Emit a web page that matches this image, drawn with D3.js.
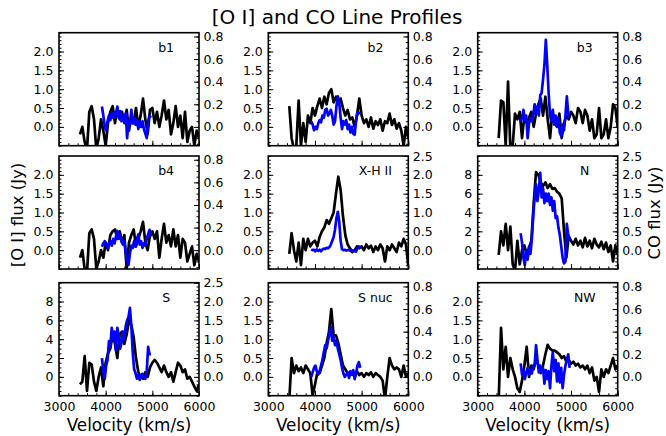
<!DOCTYPE html>
<html><head><meta charset="utf-8">
<script src="https://cdn.jsdelivr.net/npm/d3@7"></script>
<style>
html,body{margin:0;padding:0;background:#fff;}
text{font-family:"DejaVu Sans",sans-serif;fill:#000;}
</style></head>
<body>
<svg id="chart" width="666" height="436"></svg>
<script>
// ---------- data ----------
const velOI = [3450,3500,3550,3600,3650,3700,3750,3800,3850,3900,3950,4000,4050,4100,4150,4200,4250,4300,4350,4400,4450,4500,4550,4600,4650,4700,4750,4800,4850,4900,4950,5000,5050,5100,5150,5200,5250,5300,5350,5400,5450,5500,5550,5600,5650,5700,5750,5800,5850,5900,5950,6000];
const velCO = [3920,3950,3980,4010,4040,4070,4100,4130,4160,4190,4220,4250,4280,4310,4340,4370,4400,4430,4460,4490,4520,4550,4580,4610,4640,4670,4700,4730,4760,4790,4820,4850,4880,4910,4940,4970];

const panelNames = ["b1","b2","b3","b4","X-H II","N","S","S nuc","NW"];

// [O I] flux (Jy)
const oiB1 = [-0.2,0.0,-0.4,-0.6,0.4,0.55,0.2,-0.6,-0.3,0.2,-0.1,-0.5,0.1,0.4,0.55,0.1,0.5,0.2,0.4,0.1,0.45,-0.1,0.3,0.1,0.5,0.0,0.3,0.75,0.2,-0.2,0.45,0.5,0.1,0.4,0.0,0.3,0.7,0.2,0.45,-0.2,0.1,0.55,0.0,0.3,-0.3,0.4,-0.4,-0.1,0.0,-0.5,-0.1,-0.3];
const oiB2 = [0.55,-0.3,-0.6,-0.5,0.7,-0.5,0.1,-0.4,0.3,0.1,0.5,0.3,0.55,0.75,0.5,0.8,0.6,0.9,1.0,0.65,0.8,0.6,0.75,0.5,0.3,0.45,0.2,0.25,0.0,0.3,0.75,0.3,0.1,0.2,0.0,0.25,-0.05,0.15,0.05,0.2,-0.1,0.15,0.1,0.35,0.05,0.2,-0.05,0.1,-0.1,-0.5,0.0,-0.3];
const oiB3 = [-0.3,0.7,0.65,-0.5,1.2,-0.6,-0.5,0.35,0.2,0.4,-0.3,0.3,0.1,0.25,0.4,0.0,0.35,0.6,0.75,0.3,0.8,0.2,-0.3,0.4,0.1,0.0,0.35,-0.3,0.1,0.3,0.2,0.4,0.3,0.1,0.5,0.4,0.1,0.45,0.3,-0.1,0.2,-0.3,-0.2,0.5,-0.3,-0.2,0.2,-0.3,0.0,0.6,0.5,0.0];
const oiB4 = [-0.2,0.0,-0.5,-0.6,0.45,0.55,0.3,-0.5,-0.3,0.0,-0.2,0.2,0.0,0.4,0.5,0.55,0.3,0.5,0.2,0.4,-0.5,0.2,0.4,0.55,0.1,0.3,0.5,0.75,0.2,0.0,0.4,0.5,0.3,0.5,-0.2,0.3,0.7,0.2,0.4,0.1,0.55,0.1,0.4,-0.2,0.3,0.2,-0.3,-0.1,0.1,-0.4,-0.1,-0.3];
const oiXH = [-0.1,0.45,0.0,-0.3,0.2,-0.4,0.3,0.0,0.3,0.1,0.2,0.25,0.1,0.35,0.5,0.6,0.8,0.7,0.85,1.0,1.5,1.95,1.6,0.9,0.4,0.15,0.05,-0.05,0.0,0.1,0.05,0.1,0.0,0.15,0.05,0.12,-0.05,0.1,0.0,0.15,0.05,-0.3,0.1,0.0,0.15,0.05,-0.05,0.2,0.1,0.3,0.15,-0.4];
const oiN  = [-0.5,2.0,0.5,2.8,0.0,2.5,-1.5,-2.2,1.0,-1.5,0.0,0.5,-0.5,0.2,1.0,5.0,8.3,8.0,7.2,6.8,7.2,6.6,7.0,6.5,6.6,6.2,6.0,5.5,2.0,-0.8,1.5,1.0,0.6,1.2,0.5,1.0,0.3,1.3,0.4,1.0,0.2,1.2,0.6,0.3,0.9,0.1,0.8,-0.2,0.5,-1.2,0.5,-0.5];
const oiS  = [-0.8,-0.5,2.2,-1.5,1.5,1.3,-0.5,-1.5,0.0,1.0,-1.0,1.5,2.5,3.0,4.5,3.5,2.0,4.5,4.8,3.5,4.5,6.0,5.5,4.2,2.0,0.5,0.0,-0.2,0.5,0.0,1.0,1.5,1.8,1.5,1.0,0.5,1.2,0.5,0.0,0.5,-0.5,0.5,1.5,1.2,0.5,0.8,-0.2,0.0,-0.5,-1.0,-1.5,-0.8];
const oiSnuc = [-0.6,0.5,0.1,0.3,0.15,0.25,0.1,0.3,0.2,0.1,-0.5,-0.2,0.1,0.1,0.3,0.5,0.9,1.2,1.8,1.1,1.1,0.9,0.6,0.3,0.2,0.1,0.05,0.1,0.0,0.15,0.05,0.1,0.0,0.1,0.05,0.12,0.0,0.1,0.05,0.0,-0.1,-0.6,0.0,0.5,0.3,0.2,0.25,0.2,0.0,0.3,0.0,0.1];
const oiNW = [-0.6,1.3,0.2,0.8,0.0,0.5,0.2,0.0,-0.3,-0.4,-0.1,0.3,0.8,0.0,0.3,0.2,0.5,0.3,0.1,0.3,0.6,0.85,0.75,0.7,0.7,0.65,0.6,0.5,0.55,0.4,0.45,0.35,0.4,0.3,0.35,0.25,0.3,0.2,0.3,0.1,0.25,-0.1,0.0,-0.4,0.2,0.0,0.2,0.1,0.3,0.5,0.2,0.3];

// CO flux (Jy)
const coB1 = [0.18,0.10,0.00,-0.03,0.05,0.10,0.06,0.12,0.08,0.13,0.10,0.18,0.08,0.14,0.05,0.10,0.04,0.12,-0.10,0.06,0.02,0.15,0.03,0.08,0.02,0.06,-0.02,0.05,0.00,0.05,-0.02,-0.06,-0.10,0.05,0.10,0.08];
const coB2 = [0.05,0.02,-0.03,0.00,-0.02,0.03,0.06,0.04,0.10,0.08,0.15,0.16,0.10,0.12,0.15,0.10,0.02,0.05,0.18,0.27,0.22,0.08,-0.02,0.05,0.02,0.06,-0.02,0.02,-0.05,0.00,-0.06,-0.07,0.05,0.13,0.12,0.13];
const coB3 = [0.05,0.08,0.15,0.05,0.10,-0.10,0.03,0.08,0.05,0.10,0.20,0.12,0.18,0.10,0.28,0.30,0.42,0.55,0.77,0.55,0.30,0.10,0.05,0.15,0.02,0.10,0.00,0.08,-0.05,-0.08,0.02,-0.03,0.10,0.27,0.12,0.08];
const coB4 = [0.03,0.06,0.08,0.05,0.02,0.06,0.08,0.04,0.10,0.06,0.12,0.17,0.10,0.14,0.08,0.05,0.08,-0.02,-0.10,-0.13,-0.03,0.04,0.02,0.08,0.03,0.10,0.14,0.05,0.08,0.02,0.06,0.04,0.10,0.14,0.18,0.12];
const coXH = [0.02,0.00,0.01,-0.03,0.02,-0.02,0.01,-0.03,0.02,0.04,0.03,0.06,0.05,0.08,0.15,0.25,0.35,0.55,0.85,1.02,0.75,0.25,0.02,0.00,0.01,-0.01,0.00,0.01,-0.02,0.00,-0.03,-0.02,-0.04,0.05,0.10,0.07];
const coN  = [0.45,0.2,-0.2,-0.4,0.0,-0.25,0.1,-0.1,0.3,0.9,1.4,1.75,1.3,1.6,2.05,1.4,1.65,1.25,1.5,1.3,1.5,1.2,1.4,1.05,1.3,0.85,0.9,0.6,0.4,0.1,-0.2,-0.35,-0.3,0.7,0.4,0.25];
const coS  = [0.5,0.15,-0.05,0.3,0.45,0.95,0.8,1.3,1.0,1.2,0.7,1.3,1.1,0.75,0.9,1.2,1.0,1.35,1.5,1.6,1.83,1.35,0.65,0.2,0.1,-0.05,0.05,-0.08,0.05,0.08,-0.03,-0.05,0.15,0.8,0.6,0.6];
const coSnuc = [0.00,0.04,0.08,0.10,0.05,0.02,0.05,0.10,0.15,0.22,0.28,0.25,0.32,0.38,0.44,0.32,0.35,0.28,0.32,0.25,0.20,0.15,0.08,0.03,0.00,0.02,0.04,-0.01,0.05,0.02,0.06,-0.02,0.03,0.10,0.13,0.08];
const coNW = [0.12,0.02,0.06,-0.02,0.04,0.08,0.02,0.06,0.03,0.10,0.10,0.28,0.15,0.04,0.10,0.05,0.08,-0.06,0.06,-0.02,0.05,-0.10,0.10,0.22,0.05,0.15,-0.04,0.12,-0.05,0.08,-0.10,0.02,0.10,0.15,0.20,0.08];

const oiSeries = [oiB1, oiB2, oiB3, oiB4, oiXH, oiN, oiS, oiSnuc, oiNW];
const coSeries = [coB1, coB2, coB3, coB4, coXH, coN, coS, coSnuc, coNW];

// axis ranges and tick labels
const oiRangeFaint = [-0.5, 2.5], oiRangeBright = [-2, 10];
const coRangeFaint = [-0.5/3, 2.5/3], coRangeBright = [-0.5, 2.5];
const oiTicksFaint = [0, 0.5, 1.0, 1.5, 2.0];
const oiTicksBright = [0, 2, 4, 6, 8];
const coTicksFaint = [0, 0.2, 0.4, 0.6, 0.8];
const coTicksBright = [0, 0.5, 1.0, 1.5, 2.0, 2.5];
const velTicks = [3000, 4000, 5000, 6000];
const velDomain = [3000, 6000];
// which panels use the wide [O I] scale / wide CO scale
const oiBright = [false,false,false,false,false,true,true,false,false];
const coBright = [false,false,false,false,true,true,true,false,false];

// ---------- layout ----------
const svg = d3.select("#chart");
const colX = [59, 268.3, 477.7];
const rowY = [32.7, 156, 282.7];
const pw = 140, ph = 113;

svg.append("text").attr("x", 337).attr("y", 24).attr("text-anchor","middle")
  .style("font-size","20px").text("[O I] and CO Line Profiles");

svg.append("text").attr("transform","translate(23,215) rotate(-90)")
  .attr("text-anchor","middle").style("font-size","16.5px").text("[O I] flux (Jy)");
svg.append("text").attr("transform","translate(660,213) rotate(-90)")
  .attr("text-anchor","middle").style("font-size","16.5px").text("CO flux (Jy)");

const f1 = d3.format(".1f"), f0 = d3.format("d");

panelNames.forEach((name, i) => {
  const r = Math.floor(i/3), c = i % 3;
  const g = svg.append("g").attr("transform", `translate(${colX[c]},${rowY[r]})`);
  const x = d3.scaleLinear().domain(velDomain).range([0, pw]);
  const yL = d3.scaleLinear().domain(oiBright[i] ? oiRangeBright : oiRangeFaint).range([ph, 0]);
  const yR = d3.scaleLinear().domain(coBright[i] ? coRangeBright : coRangeFaint).range([ph, 0]);

  const clipId = "clip" + i;
  g.append("clipPath").attr("id", clipId).append("rect").attr("width", pw).attr("height", ph);

  const lineL = d3.line().x((d, k) => x(velOI[k])).y(d => yL(d));
  const lineR = d3.line().x((d, k) => x(velCO[k])).y(d => yR(d));
  const plot = g.append("g").attr("clip-path", `url(#${clipId})`);
  plot.append("path").datum(oiSeries[i]).attr("d", lineL)
    .attr("fill","none").attr("stroke","#000").attr("stroke-width",2.7).attr("stroke-linejoin","round");
  plot.append("path").datum(coSeries[i]).attr("d", lineR)
    .attr("fill","none").attr("stroke","#0000ff").attr("stroke-width",2.7).attr("stroke-linejoin","round");

  // minor ticks
  const yLminStep = oiBright[i] ? 0.5 : 0.1;
  const yRminStep = coBright[i] ? 0.1 : 0.05;
  const dL = yL.domain(), dR = yR.domain();
  const minorL = d3.range(Math.ceil(dL[0]/yLminStep), Math.floor(dL[1]/yLminStep)+1).map(k => k*yLminStep);
  const minorR = d3.range(Math.ceil(dR[0]/yRminStep - 1e-6), Math.floor(dR[1]/yRminStep + 1e-6)+1).map(k => k*yRminStep);
  const minorX = d3.range(3000, 6001, 200);

  const style = sel => { sel.select(".domain").remove(); sel.selectAll("line").attr("stroke","#000").attr("stroke-width",1); };

  g.append("g").call(d3.axisLeft(yL).tickValues(minorL).tickSize(-2.5).tickFormat("")).call(style);
  g.append("g").attr("transform",`translate(${pw},0)`).call(d3.axisRight(yR).tickValues(minorR).tickSize(-2.5).tickFormat("")).call(style);
  g.append("g").attr("transform",`translate(0,${ph})`).call(d3.axisBottom(x).tickValues(minorX).tickSize(-2.5).tickFormat("")).call(style);

  // major ticks
  const aL = d3.axisLeft(yL).tickValues(oiBright[i] ? oiTicksBright : oiTicksFaint)
    .tickFormat(oiBright[i] ? f0 : f1).tickSize(-5).tickPadding(5.5);
  const aR = d3.axisRight(yR).tickValues(coBright[i] ? coTicksBright : coTicksFaint)
    .tickFormat(f1).tickSize(-5).tickPadding(4.5);
  const aB = d3.axisBottom(x).tickValues(velTicks).tickSize(-5).tickPadding(6)
    .tickFormat(r === 2 ? f0 : "");
  [g.append("g").call(aL),
   g.append("g").attr("transform",`translate(${pw},0)`).call(aR),
   g.append("g").attr("transform",`translate(0,${ph})`).call(aB)].forEach(a => {
    a.call(style);
    a.selectAll("text").style("font-size","12.5px").style("font-family","DejaVu Sans").attr("fill","#000");
  });

  g.append("rect").attr("width", pw).attr("height", ph).attr("fill","none")
    .attr("stroke","#000").attr("stroke-width",1.6);

  g.append("text").attr("x", pw*0.765).attr("y", 19).attr("text-anchor","middle")
    .style("font-size","12.5px").text(name);

  if (r === 2) {
    g.append("text").attr("x", pw/2).attr("y", 148.5).attr("text-anchor","middle")
      .style("font-size","16.8px").text("Velocity (km/s)");
  }
});
</script>
</body></html>
